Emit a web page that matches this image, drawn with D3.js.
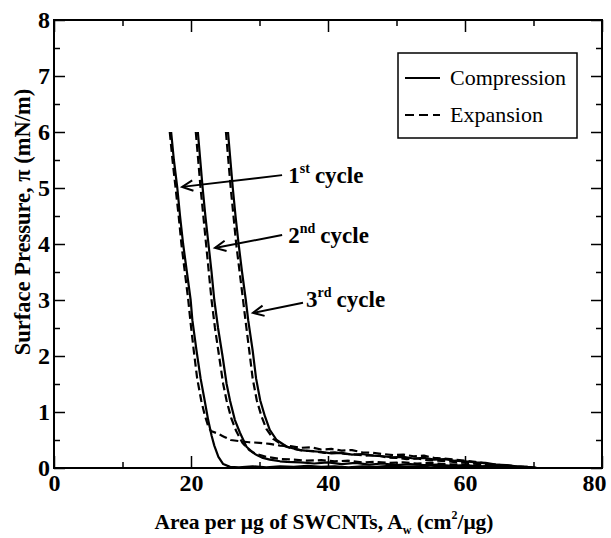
<!DOCTYPE html>
<html>
<head>
<meta charset="utf-8">
<script src="https://cdn.jsdelivr.net/npm/d3@7"></script>
<style>
  body { margin: 0; background: #fff; }
  svg { display: block; font-family: "Liberation Serif", "Times New Roman", serif; }
</style>
</head>
<body>
<script>
// tick values
var xMajor = [0, 20, 40, 60, 80];
var xMinor = [10, 30, 50, 70];
var yMajor = [0, 1, 2, 3, 4, 5, 6, 7, 8];
var yMinor = [0.5, 1.5, 2.5, 3.5, 4.5, 5.5, 6.5, 7.5];

// [area (cm2/ug), pressure (mN/m)]
var cycle1Compression = [[17.1,6.0],[17.5,5.5],[18.0,5.0],[18.4,4.5],[18.85,4.0],[19.4,3.5],[19.95,3.0],[20.2,2.64],[20.8,2.1],[21.4,1.6],[22.0,1.2],[22.5,0.86],[23.0,0.58],[23.4,0.4],[24.0,0.2],[24.7,0.07],[25.7,0.02],[27.0,0.01],[29.0,0.03],[31.0,0.01],[33.0,0.03],[35.0,0.02],[37.0,0.04],[39.0,0.02],[41.0,0.03],[43.0,0.01],[45.0,0.03],[47.0,0.02],[49.0,0.04],[51.0,0.02],[53.0,0.03],[55.0,0.01],[57.0,0.03],[59.0,0.02],[61.0,0.03],[63.0,0.01],[65.0,0.02],[67.0,0.01],[69.0,0.02],[70.5,0.0]];
var cycle1Expansion = [[16.9,6.0],[17.3,5.5],[17.75,5.0],[18.2,4.5],[18.6,4.0],[19.1,3.5],[19.6,3.0],[19.9,2.64],[20.4,2.1],[20.9,1.6],[21.5,1.2],[22.0,0.95],[22.5,0.75],[22.9,0.66],[23.8,0.62],[24.8,0.56],[25.8,0.5],[27.0,0.48],[28.5,0.46],[30.0,0.45],[31.5,0.43],[33.0,0.4],[34.5,0.39],[36.0,0.36],[37.5,0.37],[39.0,0.33],[40.5,0.34],[42.0,0.31],[43.5,0.32],[45.0,0.28],[46.5,0.27],[48.0,0.25],[49.5,0.23],[51.0,0.24],[52.5,0.21],[54.0,0.22],[55.5,0.18],[57.0,0.17],[58.5,0.15],[60.0,0.13],[61.5,0.11],[63.0,0.08],[64.5,0.06],[66.0,0.05],[67.5,0.03],[69.0,0.02],[70.5,0.0]];
var cycle2Compression = [[21.0,6.0],[21.35,5.5],[21.7,5.0],[22.1,4.5],[22.55,4.0],[23.0,3.5],[23.4,3.0],[23.95,2.5],[24.6,2.0],[25.2,1.5],[25.7,1.2],[26.4,0.86],[27.15,0.63],[28.1,0.38],[29.0,0.28],[29.6,0.23],[30.5,0.18],[31.5,0.15],[33.0,0.12],[34.0,0.11],[36.0,0.1],[38.0,0.08],[40.0,0.1],[42.0,0.07],[44.0,0.09],[46.0,0.06],[48.0,0.08],[50.0,0.05],[52.0,0.07],[54.0,0.05],[56.0,0.06],[58.0,0.04],[60.0,0.05],[62.0,0.03],[64.0,0.04],[66.0,0.02],[68.0,0.02],[70.0,0.0]];
var cycle2Expansion = [[20.7,6.0],[21.05,5.5],[21.4,5.0],[21.8,4.5],[22.2,4.0],[22.6,3.5],[23.0,3.0],[23.5,2.5],[24.1,2.0],[24.7,1.5],[25.2,1.2],[25.9,0.88],[26.6,0.66],[27.5,0.45],[28.5,0.32],[29.5,0.25],[31.0,0.2],[33.0,0.16],[35.0,0.15],[37.0,0.13],[39.0,0.14],[41.0,0.12],[43.0,0.13],[45.0,0.1],[47.0,0.11],[49.0,0.09],[51.0,0.1],[53.0,0.08],[55.0,0.09],[57.0,0.07],[59.0,0.06],[61.0,0.05],[63.0,0.04],[65.0,0.03],[67.0,0.02],[69.0,0.01],[70.0,0.0]];
var cycle3Compression = [[25.4,6.0],[25.75,5.5],[26.1,5.0],[26.5,4.5],[26.95,4.0],[27.45,3.5],[28.0,3.0],[28.35,2.64],[29.0,2.1],[29.5,1.6],[30.1,1.21],[30.8,0.92],[31.5,0.68],[32.5,0.5],[34.0,0.38],[35.9,0.32],[37.5,0.3],[38.8,0.29],[40.5,0.26],[42.0,0.27],[43.5,0.24],[45.0,0.25],[46.5,0.22],[48.0,0.21],[49.5,0.19],[51.0,0.2],[52.5,0.17],[54.0,0.18],[55.5,0.15],[57.0,0.16],[58.5,0.13],[60.0,0.12],[61.5,0.1],[63.0,0.09],[64.5,0.06],[66.0,0.05],[67.5,0.03],[69.0,0.02],[70.5,0.0]];
var cycle3Expansion = [[25.1,6.0],[25.45,5.5],[25.8,5.0],[26.2,4.5],[26.6,4.0],[27.1,3.5],[27.6,3.0],[27.95,2.64],[28.5,2.1],[29.0,1.6],[29.6,1.21],[30.3,0.92],[31.0,0.7],[32.0,0.52],[33.5,0.4],[35.0,0.34],[36.5,0.31],[38.0,0.3],[39.5,0.27],[41.0,0.28],[42.5,0.25],[44.0,0.24],[45.5,0.22],[47.0,0.23],[48.5,0.19],[50.0,0.18],[51.5,0.16],[53.0,0.17],[54.5,0.14],[56.0,0.13],[57.5,0.12],[59.0,0.1],[60.5,0.09],[62.0,0.07],[63.5,0.06],[65.0,0.04],[66.5,0.03],[68.0,0.02],[70.0,0.0]];

var series = [
  { name: 'c1', dashed: false, values: cycle1Compression },
  { name: 'e1', dashed: true, values: cycle1Expansion },
  { name: 'c2', dashed: false, values: cycle2Compression },
  { name: 'e2', dashed: true, values: cycle2Expansion },
  { name: 'c3', dashed: false, values: cycle3Compression },
  { name: 'e3', dashed: true, values: cycle3Expansion }
];

// cycle labels: text anchor and arrow from/to in data units
var cycleLabels = [
  { num: '1', sup: 'st', at: [34.2, 5.09], from: [33.3, 5.23], to: [18.7, 5.02] },
  { num: '2', sup: 'nd', at: [34.2, 4.02], from: [33.3, 4.16], to: [23.5, 3.93] },
  { num: '3', sup: 'rd', at: [36.8, 2.875], from: [36.35, 2.95], to: [29.05, 2.77] }
];

var legendItems = [
  { label: 'Compression', dashed: false },
  { label: 'Expansion', dashed: true }
];

var width = 611, height = 538;
var margin = { top: 20, right: 9, bottom: 70, left: 54 };
var w = width - margin.left - margin.right;
var h = height - margin.top - margin.bottom;

var svg = d3.select('body').append('svg').attr('width', width).attr('height', height);
var g = svg.append('g').attr('transform', 'translate(' + margin.left + ',' + margin.top + ')');

var x = d3.scaleLinear().domain([0, 80]).range([0, w]);
var y = d3.scaleLinear().domain([0, 8]).range([h, 0]);

function styleAxis(sel, fontSize) {
  sel.select('.domain').remove();
  sel.selectAll('line').attr('stroke', '#000').attr('stroke-width', 1.5);
  sel.selectAll('text').attr('fill', '#000')
    .style('font-family', '"Liberation Serif", serif')
    .style('font-weight', 'bold').style('font-size', fontSize);
}

// major / minor ticks on all four sides, pointing inward
var xAxisG = g.append('g').attr('transform', 'translate(0,' + h + ')')
  .call(d3.axisBottom(x).tickValues(xMajor).tickSize(-12).tickPadding(6).tickFormat(d3.format('d')))
  .call(styleAxis, '24px');
// last label sits against the right edge, pull it in a little
xAxisG.selectAll('.tick text').filter(function (d) { return d === 80; }).attr('dx', -8);
g.append('g').attr('transform', 'translate(0,' + h + ')')
  .call(d3.axisBottom(x).tickValues(xMinor).tickSize(-6).tickFormat(''))
  .call(styleAxis, '0px');
g.append('g')
  .call(d3.axisTop(x).tickValues(xMajor).tickSize(-12).tickFormat(''))
  .call(styleAxis, '0px');
g.append('g')
  .call(d3.axisTop(x).tickValues(xMinor).tickSize(-6).tickFormat(''))
  .call(styleAxis, '0px');
g.append('g')
  .call(d3.axisLeft(y).tickValues(yMajor).tickSize(-11).tickPadding(4).tickFormat(d3.format('d')))
  .call(styleAxis, '24px');
g.append('g')
  .call(d3.axisLeft(y).tickValues(yMinor).tickSize(-6).tickFormat(''))
  .call(styleAxis, '0px');
g.append('g').attr('transform', 'translate(' + w + ',0)')
  .call(d3.axisRight(y).tickValues(yMajor).tickSize(-11).tickFormat(''))
  .call(styleAxis, '0px');
g.append('g').attr('transform', 'translate(' + w + ',0)')
  .call(d3.axisRight(y).tickValues(yMinor).tickSize(-6).tickFormat(''))
  .call(styleAxis, '0px');

// curves
var line = d3.line().x(function (d) { return x(d[0]); }).y(function (d) { return y(d[1]); });
g.selectAll('path.curve')
  .data(series)
  .enter()
  .append('path')
  .attr('class', 'curve')
  .attr('d', function (d) { return line(d.values); })
  .attr('fill', 'none')
  .attr('stroke', '#000')
  .attr('stroke-width', 2.2)
  .attr('stroke-linejoin', 'round')
  .attr('stroke-dasharray', function (d) { return d.dashed ? '8,4' : null; });

// frame
g.append('rect').attr('width', w).attr('height', h)
  .attr('fill', 'none').attr('stroke', '#000').attr('stroke-width', 2);

// cycle labels with arrows
var ann = g.selectAll('g.ann').data(cycleLabels).enter().append('g').attr('class', 'ann');
ann.append('line')
  .attr('x1', function (d) { return x(d.from[0]); }).attr('y1', function (d) { return y(d.from[1]); })
  .attr('x2', function (d) { return x(d.to[0]); }).attr('y2', function (d) { return y(d.to[1]); })
  .attr('stroke', '#000').attr('stroke-width', 2);
ann.append('path')
  .attr('d', function (d) {
    var x1 = x(d.from[0]), y1 = y(d.from[1]), x2 = x(d.to[0]), y2 = y(d.to[1]);
    var a = Math.atan2(y2 - y1, x2 - x1), L = 12, s = 0.45;
    return 'M' + (x2 - L * Math.cos(a - s)) + ',' + (y2 - L * Math.sin(a - s)) +
      'L' + x2 + ',' + y2 +
      'L' + (x2 - L * Math.cos(a + s)) + ',' + (y2 - L * Math.sin(a + s));
  })
  .attr('fill', 'none').attr('stroke', '#000').attr('stroke-width', 2);
var annText = ann.append('text')
  .attr('x', function (d) { return x(d.at[0]); })
  .attr('y', function (d) { return y(d.at[1]); })
  .style('font-weight', 'bold').style('font-size', '23px');
annText.append('tspan').text(function (d) { return d.num; });
annText.append('tspan').attr('dy', -10).style('font-size', '14px').text(function (d) { return d.sup; });
annText.append('tspan').attr('dy', 10).attr('dx', 5).text('cycle');

// legend
var lg = g.append('g').attr('transform', 'translate(' + (398 - margin.left) + ',' + (53 - margin.top) + ')');
lg.append('rect').attr('width', 179).attr('height', 85)
  .attr('fill', '#fff').attr('stroke', '#000').attr('stroke-width', 1.5);
var li = lg.selectAll('g.item').data(legendItems).enter().append('g')
  .attr('transform', function (d, i) { return 'translate(0,' + (25 + i * 37) + ')'; });
li.append('line').attr('x1', 7).attr('x2', 42).attr('y1', 0).attr('y2', 0)
  .attr('stroke', '#000').attr('stroke-width', 2)
  .attr('stroke-dasharray', function (d) { return d.dashed ? '9,5' : null; });
li.append('text').attr('x', 52).attr('y', 7)
  .style('font-size', '22px').text(function (d) { return d.label; });

// axis titles
var xt = svg.append('text').attr('x', margin.left + w / 2 - 4).attr('y', 529)
  .attr('text-anchor', 'middle').style('font-weight', 'bold').style('font-size', '21.5px');
xt.append('tspan').text('Area per \u03bcg of SWCNTs, A');
xt.append('tspan').attr('dy', 5).style('font-size', '12px').text('w');
xt.append('tspan').attr('dy', -5).text(' (cm');
xt.append('tspan').attr('dy', -10).style('font-size', '12px').text('2');
xt.append('tspan').attr('dy', 10).text('/\u03bcg)');

svg.append('text')
  .attr('transform', 'translate(30,' + (margin.top + 202) + ') rotate(-90)')
  .attr('text-anchor', 'middle').style('font-weight', 'bold').style('font-size', '22.5px')
  .text('Surface Pressure, \u03c0  (mN/m)');
</script>
</body>
</html>
